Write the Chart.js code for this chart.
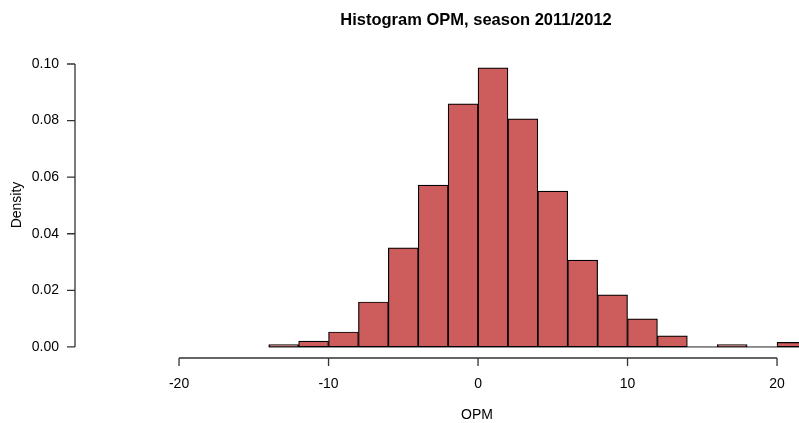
<!DOCTYPE html>
<html>
<head>
<meta charset="utf-8">
<script src="https://cdn.jsdelivr.net/npm/chart.js@4"></script>
<style>
  html, body { margin: 0; padding: 0; background: #fff; }
  canvas { display: block; }
</style>
</head>
<body>
<canvas id="histChart" width="799" height="423"></canvas>
<script>
// histogram bins (width 2) and their density
const binStarts = [-14, -12, -10, -8, -6, -4, -2, 0, 2, 4, 6, 8, 10, 12, 14, 16, 18, 20];
const binWidth = 2;
const density = [0.0008, 0.0021, 0.0053, 0.0159, 0.0350, 0.0572, 0.0859, 0.0986, 0.0806,
                 0.0551, 0.0307, 0.0184, 0.0099, 0.0039, 0, 0.0008, 0, 0.0016];
const xTicks = [-20, -10, 0, 10, 20];
const yTicks = [0, 0.02, 0.04, 0.06, 0.08, 0.10];
const chartTitle = "Histogram OPM, season 2011/2012";
const xTitle = "OPM";
const yTitle = "Density";

const FONT = "'Liberation Sans', Arial, sans-serif";

// R-style axes, title and labels
const rAxes = {
    id: "rAxes",
    afterDraw(chart) {
        const ctx = chart.ctx;
        const xs = chart.scales.x, ys = chart.scales.y;
        const area = chart.chartArea;
        ctx.save();
        ctx.strokeStyle = "#333";
        ctx.lineWidth = 1.3;
        ctx.fillStyle = "#000";

        // x axis
        const axY = area.bottom;
        ctx.beginPath();
        ctx.moveTo(xs.getPixelForValue(xTicks[0]), axY);
        ctx.lineTo(xs.getPixelForValue(xTicks[xTicks.length - 1]), axY);
        xTicks.forEach(function (t) {
            const px = xs.getPixelForValue(t);
            ctx.moveTo(px, axY);
            ctx.lineTo(px, axY + 8);
        });
        ctx.stroke();
        ctx.font = "14px " + FONT;
        ctx.textAlign = "center";
        ctx.textBaseline = "middle";
        xTicks.forEach(function (t) {
            ctx.fillText(String(t), xs.getPixelForValue(t), axY + 26);
        });

        // y axis
        const axX = area.left;
        ctx.beginPath();
        ctx.moveTo(axX, ys.getPixelForValue(yTicks[0]));
        ctx.lineTo(axX, ys.getPixelForValue(yTicks[yTicks.length - 1]));
        yTicks.forEach(function (t) {
            const py = ys.getPixelForValue(t);
            ctx.moveTo(axX, py);
            ctx.lineTo(axX - 8, py);
        });
        ctx.stroke();
        ctx.textAlign = "right";
        yTicks.forEach(function (t) {
            ctx.fillText(t.toFixed(2), axX - 16, ys.getPixelForValue(t));
        });

        // axis titles
        ctx.textAlign = "center";
        ctx.fillText(xTitle, 477, 415);
        ctx.save();
        ctx.translate(17, 205);
        ctx.rotate(-Math.PI / 2);
        ctx.fillText(yTitle, 0, 0);
        ctx.restore();

        // main title
        ctx.font = "bold 16.5px " + FONT;
        ctx.fillText(chartTitle, 476, 20);
        ctx.restore();
    }
};

const ctx = document.getElementById("histChart").getContext("2d");
const firstEdge = binStarts[0];
const lastEdge = binStarts[binStarts.length - 1] + binWidth;

new Chart(ctx, {
    type: "bar",
    data: {
        datasets: [{
            type: "line",
            data: [{ x: firstEdge, y: 0 }, { x: lastEdge, y: 0 }],
            borderColor: "#222",
            borderWidth: 1,
            pointRadius: 0,
            order: 2
        }, {
            data: binStarts.map(function (b, i) { return { x: b + binWidth / 2, y: density[i] }; }),
            backgroundColor: "#CD5C5C",
            borderColor: "#000",
            borderWidth: 1.2,
            borderSkipped: false,
            barPercentage: 1,
            categoryPercentage: 1,
            order: 1
        }]
    },
    options: {
        responsive: false,
        animation: false,
        layout: { padding: { left: 75, right: 0, top: 57, bottom: 65 } },
        plugins: { legend: { display: false }, tooltip: { enabled: false } },
        scales: {
            x: { type: "linear", display: false, offset: false, min: -26.96, max: 21.47 },
            y: { display: false, min: -0.0039, max: 0.10247 }
        }
    },
    plugins: [rAxes]
});
</script>
</body>
</html>
